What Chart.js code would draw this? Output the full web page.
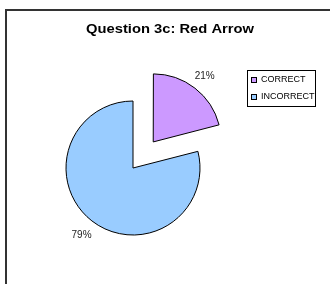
<!DOCTYPE html>
<html><head><meta charset="utf-8">
<script src="https://cdn.jsdelivr.net/npm/chart.js@4/dist/chart.umd.min.js"></script>
<style>html,body{margin:0;padding:0;background:#fff;overflow:hidden}canvas{display:block}</style>
</head><body><canvas id="c" width="330" height="284"></canvas>
<script>
const chartTitle = 'Question 3c: Red Arrow';
const categories = ['CORRECT', 'INCORRECT'];
const percentages = [21, 79];

const decor = {
  id: 'decor',
  beforeDraw(chart) {
    const ctx = chart.ctx;
    ctx.save();
    ctx.fillStyle = '#fff';
    ctx.fillRect(0, 0, chart.width, chart.height);
    ctx.fillStyle = '#333';
    ctx.fillRect(5, 9, chart.width - 5, 2);
    ctx.fillRect(5, 9, 2, chart.height - 9);
    ctx.restore();
  },
  afterDatasetsDraw(chart) {
    const ctx = chart.ctx;
    ctx.save();
    // title
    ctx.fillStyle = '#000';
    ctx.font = 'bold 13px "Liberation Sans", Arial, sans-serif';
    ctx.textAlign = 'center';
    ctx.textBaseline = 'middle';
    const w = ctx.measureText(chartTitle).width;
    ctx.translate(170, 29);
    ctx.scale(168 / w, 1);
    ctx.fillText(chartTitle, 0, 0);
    ctx.restore();

    // percentage labels
    ctx.save();
    ctx.font = '10px "Liberation Sans", Arial, sans-serif';
    ctx.fillStyle = '#222';
    ctx.textAlign = 'center';
    ctx.textBaseline = 'middle';
    const meta = chart.getDatasetMeta(0);
    meta.data.forEach((arc, i) => {
      const p = arc.getProps(['x', 'y', 'startAngle', 'endAngle', 'outerRadius'], true);
      const mid = (p.startAngle + p.endAngle) / 2;
      const off = (arc.options.offset || 0) / 4; // Chart.js v4 draws offset/4
      const r = p.outerRadius + off + 17;
      ctx.fillText(percentages[i] + '%', p.x + Math.cos(mid) * r, p.y + Math.sin(mid) * r + 1);
    });
    ctx.restore();

    // legend
    ctx.save();
    ctx.strokeStyle = '#000';
    ctx.lineWidth = 1;
    ctx.strokeRect(247.5, 70.5, 68, 36);
    const colors = chart.data.datasets[0].backgroundColor;
    ctx.font = '9px "Liberation Sans", Arial, sans-serif';
    ctx.textAlign = 'left';
    ctx.textBaseline = 'middle';
    categories.forEach((c, i) => {
      const y = 80 + i * 17;
      ctx.fillStyle = colors[i];
      ctx.fillRect(251, y - 3, 6, 6);
      ctx.strokeRect(251.5, y - 2.5, 5, 5);
      ctx.fillStyle = '#000';
      ctx.fillText(c, 261, y);
    });
    ctx.restore();
  }
};

new Chart(document.getElementById('c'), {
  type: 'pie',
  data: {
    labels: categories,
    datasets: [{
      data: percentages,
      backgroundColor: ['#CC99FF', '#99CCFF'],
      borderColor: '#000',
      borderWidth: 1,
      offset: [132, 0]
    }]
  },
  options: {
    responsive: false,
    animation: false,
    radius: 67,
    layout: { padding: { left: 0, right: 64, top: 52, bottom: 0 } },
    plugins: { legend: { display: false }, title: { display: false }, tooltip: { enabled: false } },
    events: []
  },
  plugins: [decor]
});
</script>
</body></html>
